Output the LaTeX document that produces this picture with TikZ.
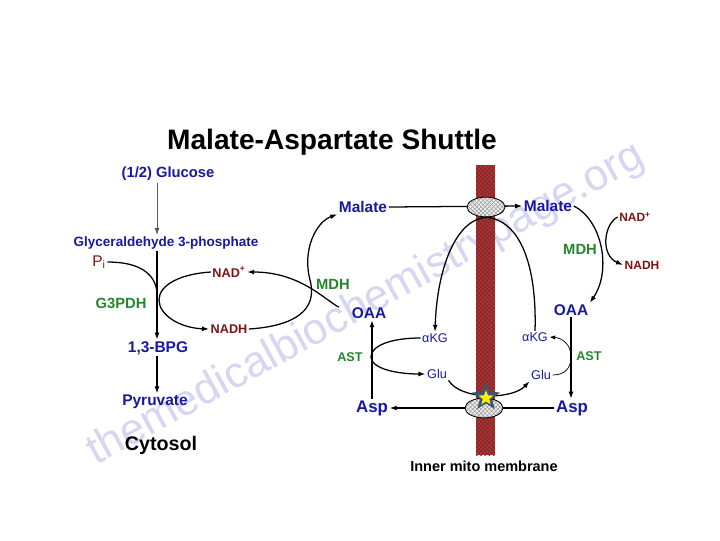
\documentclass[tikz,border=0pt]{standalone}
\usepackage{fontspec}
\setmainfont{Liberation Sans}
\usepackage{xcolor}
\usetikzlibrary{shapes.geometric,patterns,arrows.meta}

\definecolor{metblue}{RGB}{25,25,160}
\definecolor{enzgreen}{RGB}{35,135,45}
\definecolor{cofred}{RGB}{125,20,20}
\definecolor{membred}{RGB}{172,52,52}
\definecolor{wmark}{RGB}{214,214,242}
\definecolor{starblue}{RGB}{60,85,115}

\newcommand{\fsz}[1]{\fontsize{#1}{#1}\selectfont}

\tikzset{
  met/.style={text=metblue, font=\bfseries\fsz{11}, inner sep=1pt},
  metsm/.style={text=metblue, font=\fsz{9}, inner sep=1pt},
  enz/.style={text=enzgreen, font=\bfseries\fsz{10.5}, inner sep=1pt},
  cof/.style={text=cofred, font=\bfseries\fsz{9}, inner sep=1pt},
  flow/.style={-{Latex[length=5pt,width=3.5pt]}, line width=0.9pt},
  thinflow/.style={-{Latex[length=4pt,width=3pt]}, line width=0.5pt},
  carrier/.style={ellipse, draw, line width=0.6pt, minimum width=27pt, minimum height=14pt,
    preaction={fill=gray!12}, pattern=crosshatch, pattern color=gray!75}
}

\begin{document}
\begin{tikzpicture}[x=0.025cm, y=-0.025cm]
        \fill[white] (0,0) rectangle (720,540);
        \useasboundingbox (0,0) rectangle (720,540);

        % Watermark
        \node[rotate=28.7, text=wmark, font=\fsz{31}] (wm) at (366,305) {themedicalbiochemistrypage.org};

        % Title
        \node[font=\bfseries\fsz{20}] (title) at (332,142) {Malate-Aspartate Shuttle};

        % Membrane
        \fill[membred] (476,165) rectangle (495,455);
        \fill[pattern=crosshatch, pattern color=membred!75!black] (476,165) rectangle (495,455);
        \node[font=\bfseries\fsz{10.3}] (memlbl) at (484,466) {Inner mito membrane};

        % Glycolysis (cytosol)
        \coordinate (spine) at (157,0);
        \node[met, font=\bfseries\fsz{10.5}] (glc) at (168,174) {(1/2) Glucose};
        \node[met, font=\bfseries\fsz{9.6}] (gap) at (166,243) {Glyceraldehyde 3-phosphate};
        \node[text=cofred, font=\fsz{11}, inner sep=1pt] (pi) at (99,262) {P\textsubscript{i}};
        \node[enz] (g3pdh) at (121,303) {G3PDH};
        \node[cof] (nadC) at (229,272) {NAD\textsuperscript{+}};
        \node[cof] (nadhC) at (229,329) {NADH};
        \node[met] (bpg) at (158,348) {1,3-BPG};
        \node[met] (pyr) at (155,402) {Pyruvate};
        \node[font=\bfseries\fsz{14}] (cyto) at (161,445) {Cytosol};
        \coordinate (pij) at (157,292);
        \coordinate (loopC) at (159,300);

        \draw[-{Latex[length=5pt,width=3.5pt]}, line width=0.6pt, gray!70!black] (glc.south -| spine) -- (gap.north -| spine);
        \draw[flow] (gap.south -| spine) -- (bpg.north -| spine);
        \draw[flow] (bpg.south -| spine) -- (pyr.north -| spine);
        \draw[line width=0.9pt] (pi.east) .. controls (140,262) and (155,274) .. (pij);
        \draw[flow] (nadC.west) .. controls (180,274) and (159,285) .. (loopC)
                    .. controls (159,315) and (180,328) .. (nadhC.west);

        % Cytosol MDH / AST
        \node[met] (malC) at (363,207) {Malate};
        \node[enz] (mdhC) at (333,284) {MDH};
        \node[met] (oaaC) at (369,313) {OAA};
        \node[metsm] (akgC) at (435,338) {αKG};
        \node[enz, font=\bfseries\fsz{9}] (astC) at (350,357) {AST};
        \node[metsm] (gluC) at (437,374) {Glu};
        \node[met, font=\bfseries\fsz{12}] (aspC) at (372,408) {Asp};
        \coordinate (mdhX) at (310,280);
        \coordinate (astX) at (371,357);

        \draw[flow] (nadhC.east) .. controls (295,326) and (318,310) .. (mdhX)
                    .. controls (302,250) and (316,222) .. (malC.south west);
        \draw[flow, shorten <=9pt] (oaaC.west) .. controls (325,300) and (300,272) .. (nadC.east);
        \draw[flow] (aspC.north) -- (aspC.north |- oaaC.south);
        \draw[flow] (akgC.west) .. controls (390,338) and (371,346) .. (astX)
                    .. controls (371,368) and (395,374) .. (gluC.west);

        % Mitochondrial matrix
        \node[met] (malM) at (548,206) {Malate};
        \node[cof, font=\bfseries\fsz{8.5}] (nadM) at (635,217) {NAD\textsuperscript{+}};
        \node[enz] (mdhM) at (580,249) {MDH};
        \node[cof, font=\bfseries\fsz{8.5}] (nadhM) at (642,265) {NADH};
        \node[met] (oaaM) at (571,310) {OAA};
        \node[metsm] (akgM) at (535,337) {αKG};
        \node[enz, font=\bfseries\fsz{9}] (astM) at (589,356) {AST};
        \node[metsm] (gluM) at (541,375) {Glu};
        \node[met, font=\bfseries\fsz{12}] (aspM) at (572,408) {Asp};
        \coordinate (astY) at (571,357);

        \draw[flow] (malM.east) .. controls (602,220) and (612,270) .. (oaaM.north east);
        \draw[flow] (nadM.west) .. controls (604,224) and (600,255) .. (nadhM.west);
        \draw[flow] (oaaM.south) -- (oaaM.south |- aspM.north);
        \draw[thinflow] (gluM.east) .. controls (565,375) and (571,368) .. (astY)
                        .. controls (571,344) and (562,338) .. (akgM.east);

        % Transport across the membrane
        \draw[flow] (malC.east) -- (malM.west);
        \draw[flow] (aspM.west) -- (aspC.east);
        \node[carrier] (ellT) at (486,207) {};
        \node[carrier] (ellB) at (484,408) {};
        \draw[flow] (akgM.north) .. controls (537,265) and (520,220) .. (ellT.south)
                    .. controls (455,220) and (437,270) .. (akgC.north);
        \draw[flow] (gluC.south east) .. controls (460,400) and (512,400) .. (gluM.south west);
        \node[star, star points=5, star point ratio=2.3, fill=starblue, inner sep=0pt, minimum size=21pt] (starO) at (486,397) {};
        \node[star, star points=5, star point ratio=2.3, fill=yellow, inner sep=0pt, minimum size=11pt] (starI) at (486,398) {};
\end{tikzpicture}
\end{document}
